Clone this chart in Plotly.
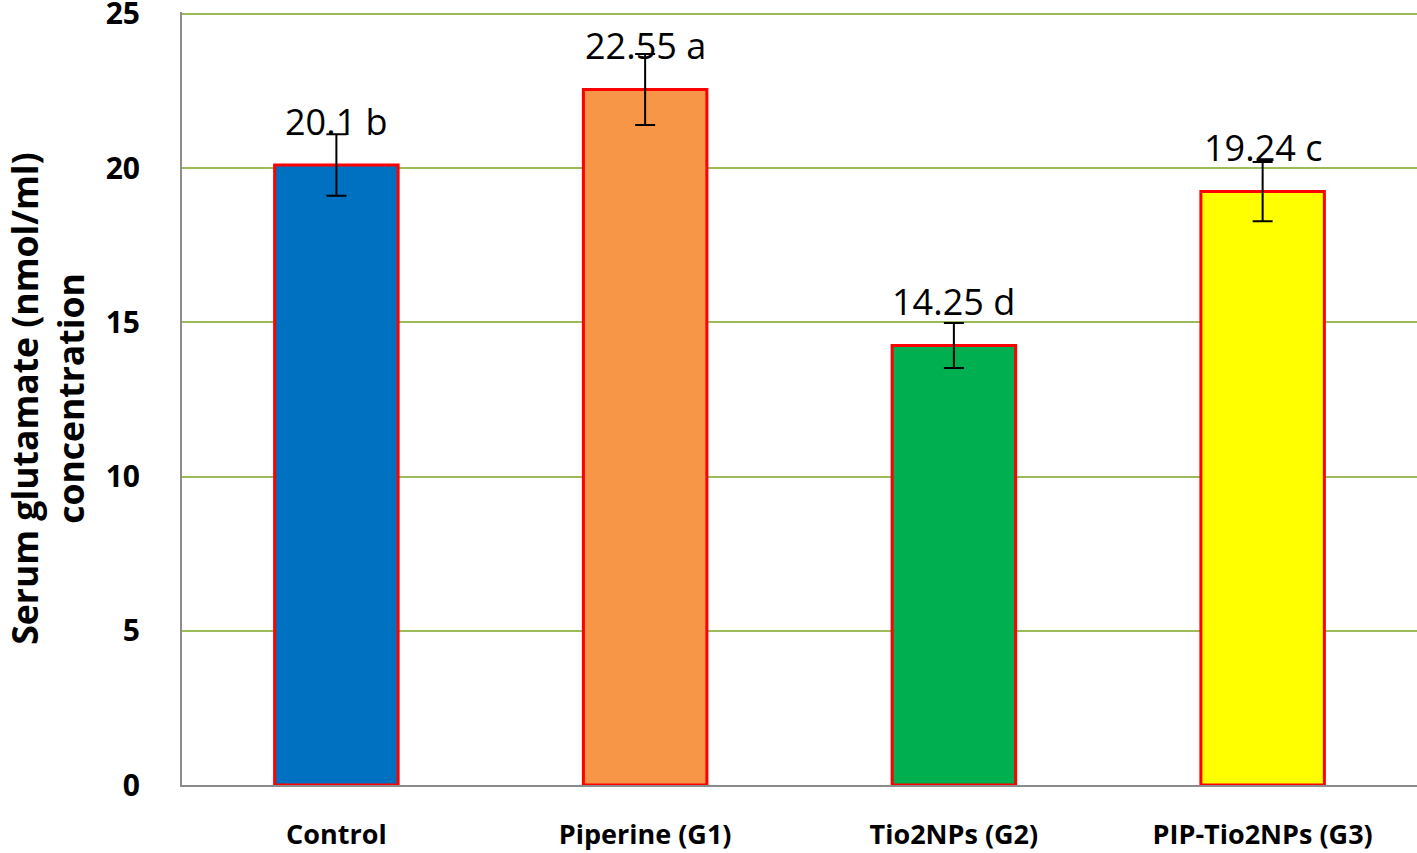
import plotly.graph_objects as go

# data
groups = ["Control", "Piperine (G1)", "Tio2NPs (G2)", "PIP-Tio2NPs (G3)"]
means = [20.1, 22.55, 14.25, 19.24]
errors = [1.0, 1.15, 0.73, 0.96]
letters = ["b", "a", "d", "c"]
bar_colors = ["#0070C0", "#F79646", "#00B050", "#FFFF00"]
y_ticks = [0, 5, 10, 15, 20, 25]

FONT = "Open Sans"

fig = go.Figure()

fig.add_trace(
    go.Bar(
        x=groups,
        y=means,
        width=0.4,
        marker=dict(color=bar_colors, line=dict(color="#FF0000", width=3)),
        error_y=dict(
            type="data", array=errors, visible=True,
            color="black", thickness=2, width=10,
        ),
        showlegend=False,
    )
)

# value labels above each bar
for g, m, l in zip(groups, means, letters):
    fig.add_annotation(
        x=g, y=m, text=f"{m:g} {l}", showarrow=False,
        yanchor="middle", yshift=44,
        font=dict(family=FONT, size=36, color="black"),
    )

fig.update_yaxes(
    range=[0, 25.06],
    tickvals=y_ticks,
    automargin=False,
    ticklabeloverflow="allow",
    showgrid=True,
    gridcolor="#9BBB59",
    gridwidth=2,
    showline=True,
    linecolor="#8C8C8C",
    linewidth=2,
    zeroline=False,
    ticks="",
    ticklabelstandoff=34,
    tickfont=dict(family=FONT, size=30, color="black", weight="bold"),
    title=dict(
        text="Serum glutamate (nmol/ml)<br>concentration",
        font=dict(family=FONT, size=35.5, color="black", weight="bold"),
        standoff=36,
    ),
)

fig.update_xaxes(
    automargin=False,
    showline=True,
    linecolor="#8C8C8C",
    linewidth=2,
    ticks="",
    ticklabelstandoff=25,
    tickfont=dict(family=FONT, size=27, color="black", weight="bold"),
)

fig.update_layout(
    width=1417,
    height=853,
    margin=dict(l=182, r=0, t=12, b=68),
    plot_bgcolor="white",
    paper_bgcolor="white",
)

# drop the default page margin so the top tick label is not clipped
fig.write_html(
    "out.html",
    config={"displayModeBar": False},
    post_script="document.body.style.margin='0';",
)
